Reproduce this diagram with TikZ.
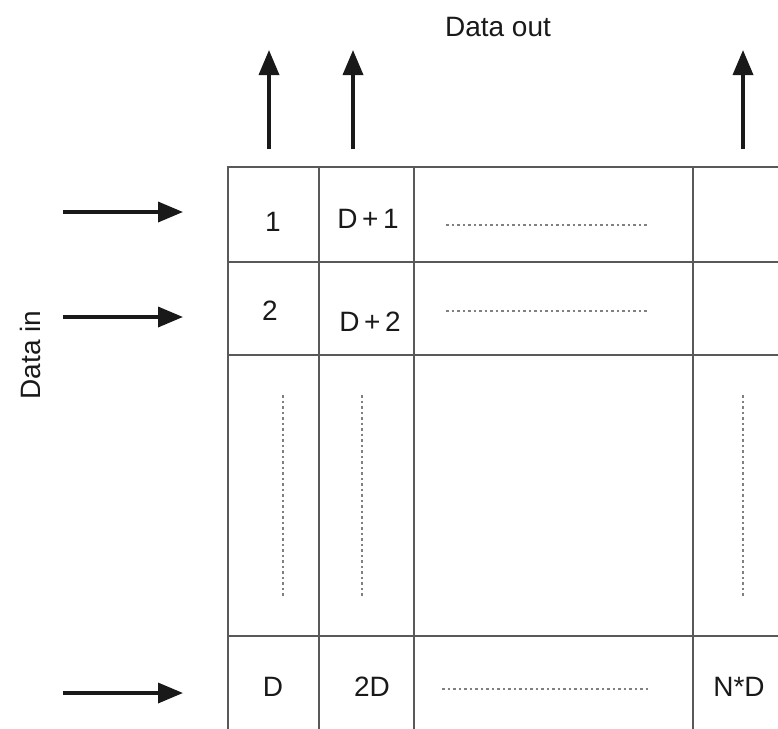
\documentclass[tikz,border=0pt]{standalone}
\usepackage{fontspec}
\setmainfont{Liberation Sans}
\usetikzlibrary{arrows.meta}

\begin{document}
\begin{tikzpicture}[x=1pt,y=-1pt,
  gridline/.style={line width=2pt, draw=black!65},
  flow/.style={line width=3.5pt, draw=black!90, -{Triangle[length=25pt,width=20pt]}},
  dotrule/.style={line width=1.1pt, draw=black!50, dash pattern=on 2.5pt off 3pt},
  lbl/.style={font=\fontsize{28}{33}\selectfont, text=black!90, inner sep=0pt}]
\useasboundingbox (0,0) rectangle (778,728);
\clip (0,0) rectangle (778,728);

% memory grid (continues past the right and bottom edges)
\foreach \yy in {167,262,355,636}
  \draw[gridline] (227,\yy) -- (800,\yy);
\foreach \xx in {228,319,414,693}
  \draw[gridline] (\xx,166) -- (\xx,760);

% cell labels
\node[lbl] (c1)  at (273,222) {1};
\node[lbl] (c2)  at (368,219) {D\,+\,1};
\node[lbl] (c3)  at (270,311) {2};
\node[lbl] (c4)  at (370,322) {D\,+\,2};
\node[lbl] (c5)  at (273,687) {D};
\node[lbl] (c6)  at (372,687) {2D};
\node[lbl] (c7)  at (739,687) {N*D};

% ellipsis rules
\coordinate (h1a) at (446,225); \coordinate (h1b) at (649,225);
\coordinate (h2a) at (446,311); \coordinate (h2b) at (649,311);
\coordinate (h3a) at (442,689); \coordinate (h3b) at (649,689);
\draw[dotrule] (h1a) -- (h1b);
\draw[dotrule] (h2a) -- (h2b);
\draw[dotrule] (h3a) -- (h3b);
\coordinate (v1a) at (283,395); \coordinate (v1b) at (283,598);
\coordinate (v2a) at (362,395); \coordinate (v2b) at (362,598);
\coordinate (v3a) at (743,395); \coordinate (v3b) at (743,598);
\draw[dotrule] (v1a) -- (v1b);
\draw[dotrule] (v2a) -- (v2b);
\draw[dotrule] (v3a) -- (v3b);

% input arrows
\coordinate (i1s) at (63,212);  \coordinate (i1e) at (183,212);
\coordinate (i2s) at (63,317);  \coordinate (i2e) at (183,317);
\coordinate (i3s) at (63,693);  \coordinate (i3e) at (183,693);
\draw[flow] (i1s) -- (i1e);
\draw[flow] (i2s) -- (i2e);
\draw[flow] (i3s) -- (i3e);

% output arrows
\coordinate (o1s) at (269,149); \coordinate (o1e) at (269,50);
\coordinate (o2s) at (353,149); \coordinate (o2e) at (353,50);
\coordinate (o3s) at (743,149); \coordinate (o3e) at (743,50);
\draw[flow] (o1s) -- (o1e);
\draw[flow] (o2s) -- (o2e);
\draw[flow] (o3s) -- (o3e);

% captions
\node[lbl] (dout) at (498,27) {Data out};
\node[lbl, rotate=90] (din) at (30,355) {Data in};
\end{tikzpicture}
\end{document}
